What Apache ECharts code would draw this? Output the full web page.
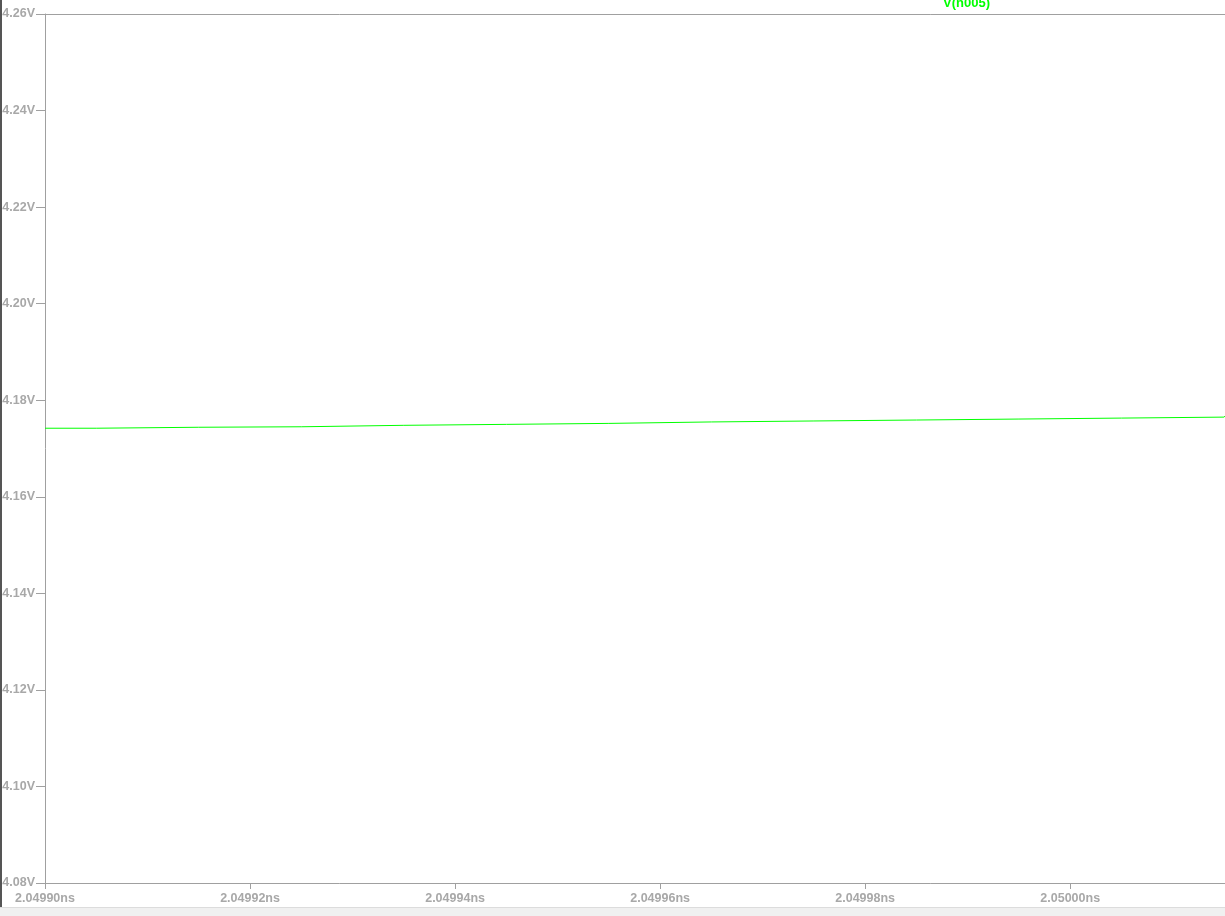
<!DOCTYPE html>
<html>
<head>
<meta charset="utf-8">
<title>V(n005)</title>
<script src="https://cdn.jsdelivr.net/npm/echarts@6/dist/echarts.min.js"></script>
<style>
    html, body { margin: 0; padding: 0; background: #fff; }
    .chart { width: 1225px; height: 916px; }
</style>
</head>
<body>
<div class="chart"></div>
<script>
// 数据：时间(ns) 和 电压(V)
var times = [2.0499, 2.049905, 2.049915, 2.049925, 2.049935, 2.049945, 2.049955,
             2.049965, 2.049975, 2.049985, 2.049995, 2.050005, 2.050015, 2.0500151];
var volts = [4.1742, 4.1744, 4.1745, 4.1748, 4.1750, 4.1752, 4.1755,
             4.1757, 4.1759, 4.1761, 4.1763, 4.1765, 4.1767, 4.1767];
var traceName = 'V(n005)';
var xMin = 2.0499, xMax = 2.0500151, xStep = 0.00002;
var yMin = 4.08, yMax = 4.26, yStep = 0.02;

(function () {
    var myChart = echarts.init(document.querySelector(".chart"));
    var axisGray = '#a0a0a0';
    var labelFont = {
        color: '#a8a8a8',
        fontFamily: 'Liberation Sans, Arial, sans-serif',
        fontWeight: 'bold',
        fontSize: 12.5
    };
    var pts = times.map(function (t, i) { return [t, volts[i]]; });

    var option = {
        animation: false,
        backgroundColor: '#fff',
        title: {
            text: traceName,
            left: 943,
            top: -3,
            padding: 0,
            textStyle: {
                color: '#00ff00',
                fontFamily: 'Liberation Sans, Arial, sans-serif',
                fontWeight: 'bold',
                fontSize: 13
            }
        },
        grid: {
            left: 45,
            top: 14,
            right: 0,
            bottom: 33,
            containLabel: false,
            outerBoundsMode: 'none'
        },
        // 窗口边框 装饰
        graphic: [
            { type: 'rect', shape: { x: 0, y: 0, width: 2, height: 916 }, style: { fill: '#555' } },
            { type: 'rect', shape: { x: 0, y: 908, width: 1225, height: 8 }, style: { fill: '#f0f0f0' } },
            { type: 'rect', shape: { x: 0, y: 907, width: 1225, height: 1 }, style: { fill: '#dcdcdc' } }
        ],
        xAxis: [
            {
                type: 'value',
                min: xMin,
                max: xMax,
                interval: xStep,
                axisLine: { lineStyle: { color: axisGray, width: 1 } },
                axisTick: { show: true, length: 6, lineStyle: { color: axisGray } },
                axisLabel: Object.assign({
                    margin: 9,
                    showMaxLabel: false,
                    formatter: function (v) { return v.toFixed(5) + 'ns'; }
                }, labelFont),
                splitLine: { show: false }
            },
            {
                type: 'value',
                position: 'top',
                min: xMin,
                max: xMax,
                axisLine: { show: true, lineStyle: { color: axisGray, width: 1 } },
                axisTick: { show: false },
                axisLabel: { show: false },
                splitLine: { show: false }
            }
        ],
        yAxis: {
            type: 'value',
            min: yMin,
            max: yMax,
            interval: yStep,
            axisLine: { show: true, lineStyle: { color: axisGray, width: 1 } },
            axisTick: { show: true, length: 9, lineStyle: { color: axisGray } },
            axisLabel: Object.assign({
                margin: 10,
                formatter: function (v) { return v.toFixed(2) + 'V'; }
            }, labelFont),
            splitLine: { show: false }
        },
        series: [
            {
                name: traceName,
                type: 'line',
                step: 'end',
                showSymbol: false,
                data: pts,
                lineStyle: { color: '#00ff00', width: 1 }
            }
        ]
    };
    myChart.setOption(option);
    window.addEventListener('resize', function () {
        myChart.resize();
    });
})();
</script>
</body>
</html>
